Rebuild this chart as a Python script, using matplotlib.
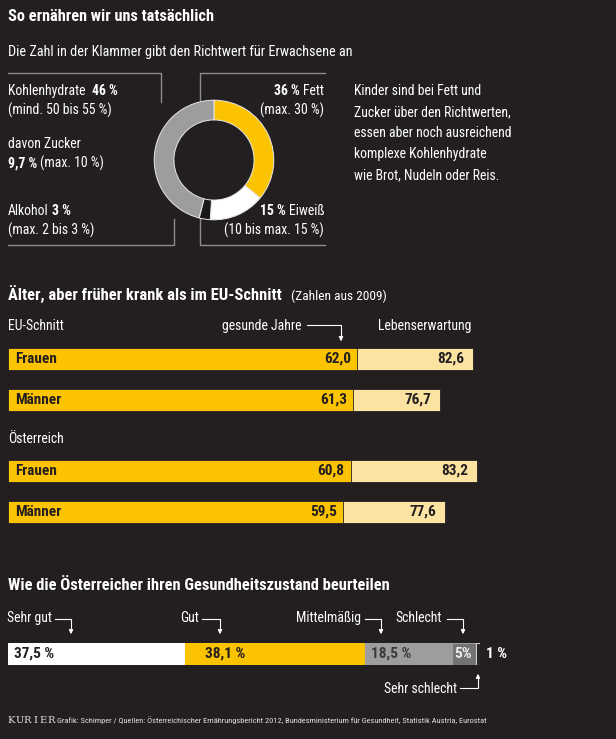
import numpy as np
import matplotlib
matplotlib.use("Agg")
import matplotlib.pyplot as plt

plt.rcParams['font.family'] = ['Roboto Condensed', 'Roboto', 'DejaVu Sans']

BG = '#231f20'
YEL = '#fcc300'
LYEL = '#fde3a2'
GRAY = '#9d9d9f'
LINE = '#8c8c8c'

# ernaehrung (donut), im Uhrzeigersinn ab 12 Uhr
diet_labels = ['Fett', 'Eiweiß', 'Alkohol', 'Kohlenhydrate']
diet_values = [36, 15, 3, 46]
diet_colors = [YEL, 'white', '#1a1718', GRAY]

# gesunde Jahre / Lebenserwartung
groups = ['Frauen', 'Männer', 'Frauen', 'Männer']
healthy_years = [62.0, 61.3, 60.8, 59.5]
life_exp = [82.6, 76.7, 83.2, 77.6]
row_pos = [0, 1, 2.73, 3.73]

# Gesundheitszustand
state_labels = ['Sehr gut', 'Gut', 'Mittelmäßig', 'Schlecht', 'Sehr schlecht']
state_values = [37.5, 38.1, 18.5, 5, 1]
state_text = ['37,5 %', '38,1 %', '18,5 %', '5%', '1 %']
state_colors = ['white', YEL, GRAY, '#737373', BG]

W, H = 616, 739
fig = plt.figure(figsize=(W / 100, H / 100), dpi=100, facecolor=BG)
renderer = fig.canvas.get_renderer()

def px_axes(x0, y0, w, h):
    return fig.add_axes([x0 / W, 1 - (y0 + h) / H, w / W, h / H])

ov = px_axes(0, 0, W, H)
ov.set_xlim(0, W)
ov.set_ylim(H, 0)
ov.axis('off')

def t(x, y, s, **kw):
    kw.setdefault('color', 'white')
    kw.setdefault('va', 'baseline')
    return ov.text(x, y, s, **kw)

def rich(x, y, parts, ha='left', gap=3.2, **kw):
    # parts: (text, weight, size); pieces side by side
    objs = [t(0, y, s, fontweight=w, fontsize=fsz, **kw) for s, w, fsz in parts]
    widths = [o.get_window_extent(renderer).width for o in objs]
    total = sum(widths) + gap * (len(objs) - 1)
    cur = x if ha == 'left' else x - total
    for o, w in zip(objs, widths):
        o.set_x(cur)
        cur += w + gap
    return cur

# ---------- Teil 1 ----------
t(8, 21, 'So ernähren wir uns tatsächlich', fontsize=11.7, fontweight='bold')
t(8, 56, 'Die Zahl in der Klammer gibt den Richtwert für Erwachsene an', fontsize=10.3)

fs = 9.9
rich(8, 95, [('Kohlenhydrate', 'normal', fs), ('46 %', 'bold', fs)], gap=6)
t(8, 115, '(mind. 50 bis 55 %)', fontsize=fs)
t(8, 148, 'davon Zucker', fontsize=fs)
rich(8, 168, [('9,7 %', 'bold', fs), ('(max. 10 %)', 'normal', fs)])
rich(8, 215, [('Alkohol', 'normal', fs), ('3 %', 'bold', fs)])
t(8, 235, '(max. 2 bis 3 %)', fontsize=fs)
rich(324, 95, [('36 %', 'bold', fs), ('Fett', 'normal', fs)], ha='right')
t(324, 115, '(max. 30 %)', fontsize=fs, ha='right')
rich(324, 215, [('15 %', 'bold', fs), ('Eiweiß', 'normal', fs)], ha='right')
t(324, 235, '(10 bis max. 15 %)', fontsize=fs, ha='right')

for i, line in enumerate(['Kinder sind bei Fett und', 'Zucker über den Richtwerten,',
                          'essen aber noch ausreichend', 'komplexe Kohlenhydrate',
                          'wie Brot, Nudeln oder Reis.']):
    t(354, 95 + i * 21, line, fontsize=fs)

# Rahmenlinien
ov.plot([8, 161, 161], [73, 73, 102], color=LINE, lw=1)
ov.plot([325, 200, 200], [73, 73, 100], color=LINE, lw=1)
ov.plot([8, 174, 174], [245, 245, 219], color=LINE, lw=1)
ov.plot([325, 200, 200], [245, 245, 218], color=LINE, lw=1)

dax = px_axes(153, 99, 122, 122)
dax.pie(diet_values, colors=diet_colors, startangle=90, counterclock=False,
        radius=1, wedgeprops=dict(width=0.33, edgecolor='#e8e8e8', linewidth=0.7))
dax.set_xlim(-1.02, 1.02)
dax.set_ylim(-1.02, 1.02)
dax.axis('off')

# ---------- Teil 2 ----------
rich(8, 300, [('Älter, aber früher krank als im EU-Schnitt', 'bold', 11.85),
              ('(Zahlen aus 2009)', 'normal', 9.6)], gap=9)
t(8, 330, 'EU-Schnitt', fontsize=fs)
t(302, 330, 'gesunde Jahre', fontsize=fs, ha='right')
t(378, 330, 'Lebenserwartung', fontsize=fs)
t(8, 443, 'Österreich', fontsize=fs)
ov.plot([307, 341, 341], [325, 325, 338], color='white', lw=0.8)
ov.annotate('', xy=(341, 344), xytext=(341, 336),
            arrowprops=dict(arrowstyle='-|>', color='white', lw=0.8, mutation_scale=6))

unit = 41
bax = px_axes(8, 359 - unit / 2, 563.5, unit * 5)
bax.set_xlim(0, 100)
bax.set_ylim(4.5, -0.5)
bax.axis('off')
bh = 22 / unit
bax.barh(row_pos, life_exp, height=bh, color=LYEL, edgecolor=BG, linewidth=0.6)
bax.barh(row_pos, healthy_years, height=bh, color=YEL, edgecolor=BG, linewidth=0.6)
for y, g, hy, le in zip(row_pos, groups, healthy_years, life_exp):
    bax.text(1.3, y, g, fontsize=11, fontweight='bold', color=BG, va='center')
    bax.text(hy - 1.1, y, f'{hy:.1f}'.replace('.', ','), fontsize=11, fontweight='bold',
             color=BG, va='center', ha='right')
    bax.text(le - 1.6, y, f'{le:.1f}'.replace('.', ','), fontsize=11, fontweight='bold',
             color=BG, va='center', ha='right')

# ---------- Teil 3 ----------
t(8, 590, 'Wie die Österreicher ihren Gesundheitszustand beurteilen', fontsize=11.9, fontweight='bold')

sax = px_axes(8, 643, 472, 22)
sax.set_xlim(0, 100)
sax.set_ylim(-0.5, 0.5)
sax.axis('off')
left = np.concatenate([[0], np.cumsum(state_values)[:-1]])
sax.barh([0], state_values, left=left, height=1, color=state_colors,
         edgecolor=['white', YEL, GRAY, '#9d9d9f', '#cfcfcf'], linewidth=0.8)
txt_cols = [BG, BG, '#3a3a3a', '#eeeeee']
offs = [1.3, 4.2, 1.3, 0.4]
for i in range(4):
    sax.text(left[i] + offs[i], 0, state_text[i], fontsize=11, fontweight='bold',
             color=txt_cols[i], va='center')
sax.text(101.3, 0, state_text[4], fontsize=11, fontweight='bold', color='white',
         va='center', clip_on=False)

# Pfeile
arrows = [(52, 55, 71), (199, 202, 220), (361, 365, 381), (442, 447, 463)]
for lab, (xe, x1, x2) in zip(state_labels[:4], arrows):
    t(xe, 622, lab, fontsize=fs, ha='right')
    ov.plot([x1, x2, x2], [619, 619, 630], color='white', lw=0.8)
    ov.annotate('', xy=(x2, 637), xytext=(x2, 628),
                arrowprops=dict(arrowstyle='-|>', color='white', lw=0.8, mutation_scale=6))
t(457, 693, state_labels[4], fontsize=fs, ha='right')
ov.plot([460, 478, 478], [688, 688, 678], color='white', lw=0.8)
ov.annotate('', xy=(478, 671), xytext=(478, 680),
            arrowprops=dict(arrowstyle='-|>', color='white', lw=0.8, mutation_scale=6))

# Fusszeile
for i, ch in enumerate('KURIER'):
    t(11.5 + i * 7.9, 723, ch, fontsize=7.2, family='DejaVu Serif', color='#e0e0e0', ha='center')
t(57, 723, 'Grafik: Schimper / Quellen: Österreichischer Ernährungsbericht 2012, '
           'Bundesministerium für Gesundheit, Statistik Austria, Eurostat',
  fontsize=6.0, color='#e0e0e0')

fig.savefig('out.png', facecolor=BG)
